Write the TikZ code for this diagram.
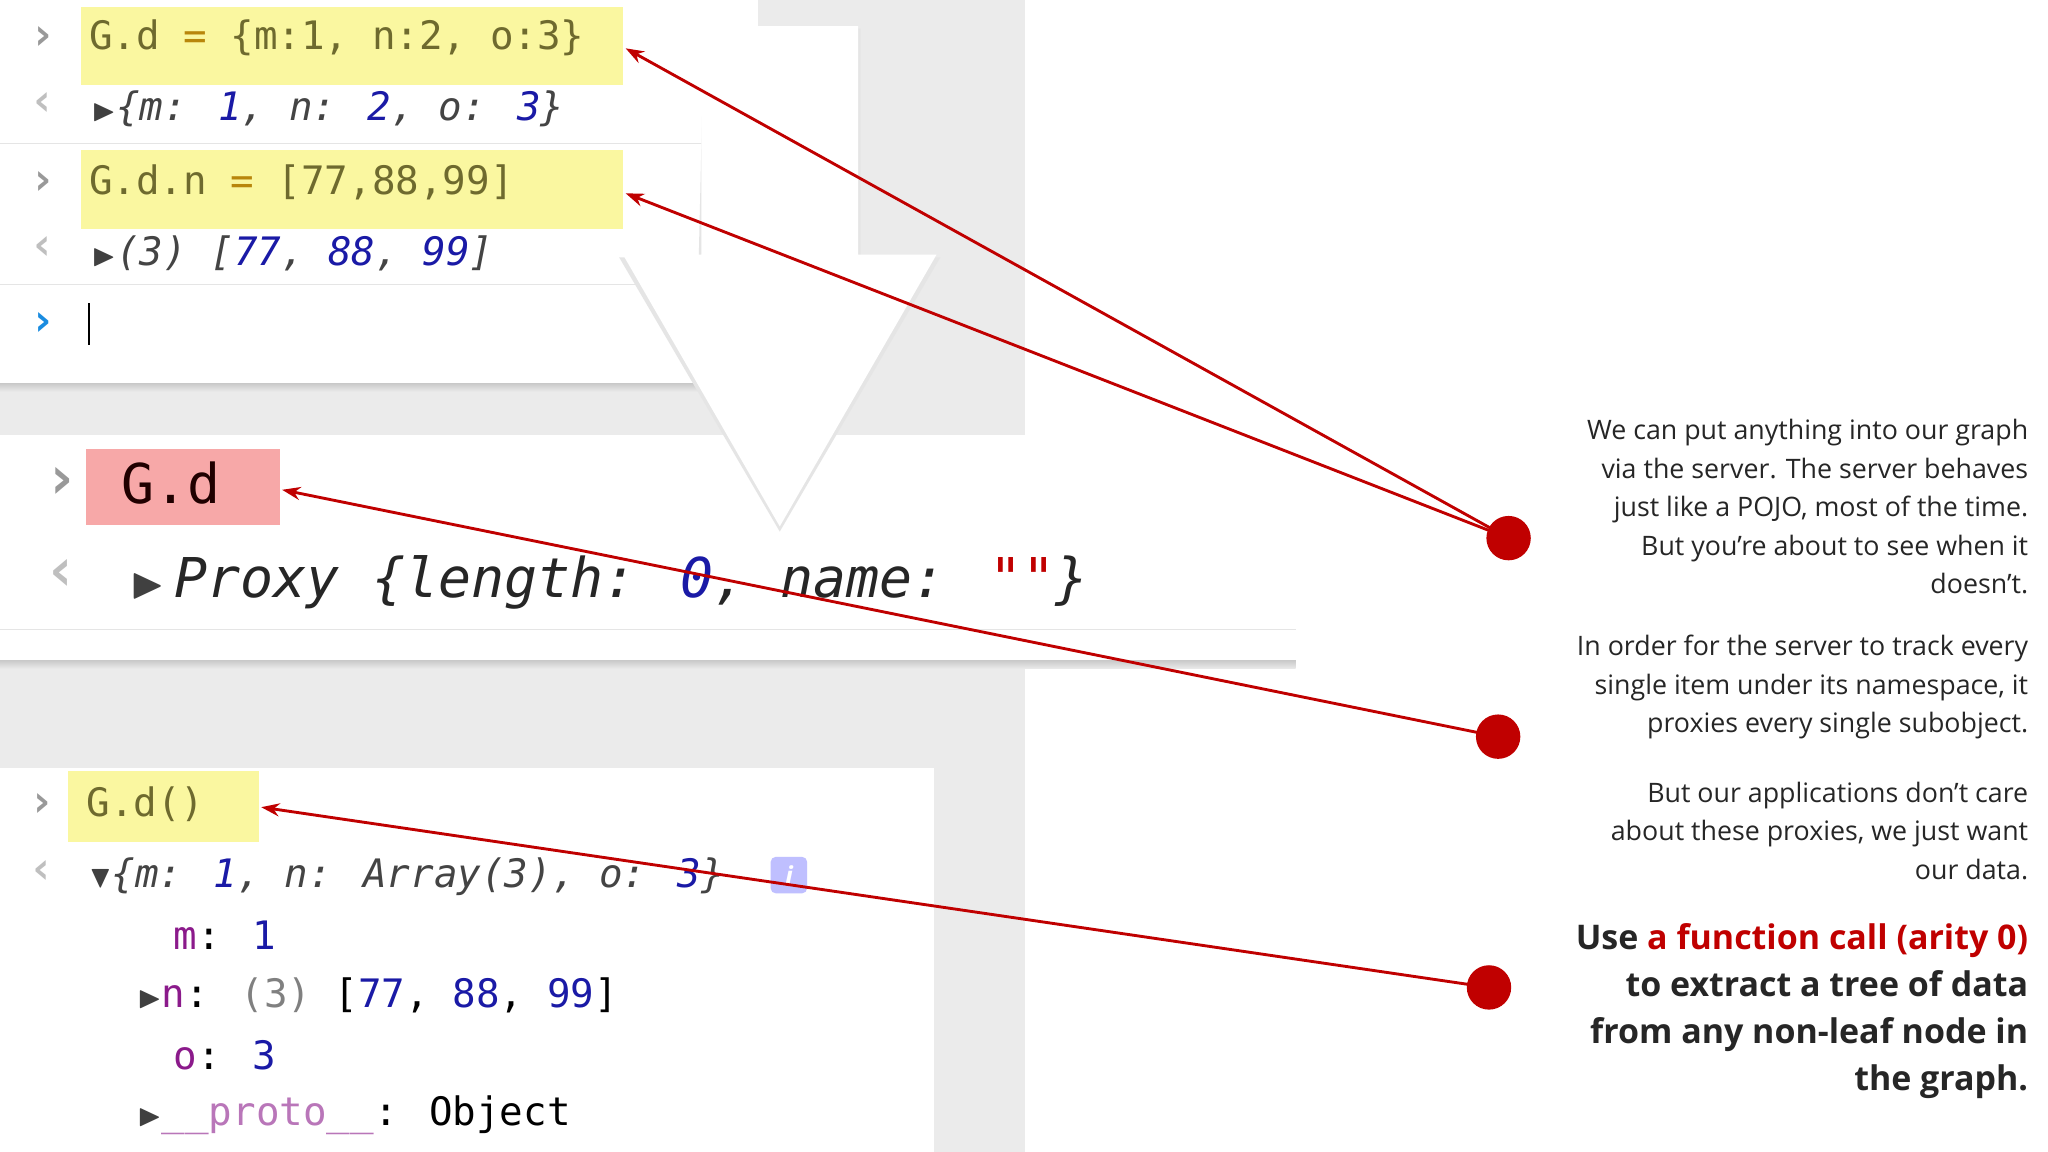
\documentclass[tikz,border=0pt]{standalone}
\usepackage{amssymb}
\usepackage{fontspec}
\setmainfont{Open Sans}
\newfontfamily\codefont{DejaVu Sans Mono}
\usetikzlibrary{arrows.meta}
\definecolor{bggray}{HTML}{EBEBEB}
\definecolor{hlyellow}{HTML}{FAF7A0}
\definecolor{hlpink}{HTML}{F7A8A8}
\definecolor{codeol}{HTML}{6E6A2E}
\definecolor{eqor}{HTML}{B8860B}
\definecolor{numblue}{HTML}{1A1AA6}
\definecolor{keygray}{HTML}{444444}
\definecolor{arrred}{HTML}{C00000}
\definecolor{promptblue}{HTML}{1A8CE0}
\definecolor{keypurple}{HTML}{8B1A8B}
\newcommand{\tri}{\textcolor{black!75}{\fontsize{24}{24}\selectfont$\blacktriangleright$}}
\newcommand{\trid}{\textcolor{black!75}{\fontsize{24}{24}\selectfont$\blacktriangledown$}}
\tikzset{
  code/.style={anchor=west,inner sep=0pt,font=\codefont\fontsize{30}{32}\selectfont},
  prompt/.style={anchor=center,inner sep=0pt,text=gray!80,font=\codefont\bfseries\fontsize{34}{34}\selectfont},
  para/.style={anchor=east,align=right,inner sep=0pt,font=\fontsize{20.5}{29.5}\selectfont,text=black!85},
  redline/.style={draw=arrred,line width=2.2pt,-{Stealth[length=14pt,width=10pt]}},
  dot/.style={circle,fill=arrred,minimum size=34pt,inner sep=0pt},
  sep/.style={draw=black!10,line width=1pt}
}
\begin{document}
\begin{tikzpicture}[x=1pt,y=-1pt]
\useasboundingbox (0,0) rectangle (1568,882);
\fill[white] (0,0) rectangle (1568,882);
\fill[bggray] (0,0) rectangle (785,882);
% panel 1
\shade[top color=black!22,bottom color=bggray] (0,293) rectangle (580,300);
\fill[white] (0,0) rectangle (580,293);
\fill[hlyellow] (62,5) rectangle (477,65);
\fill[hlyellow] (62,115) rectangle (477,175);
\draw[sep] (0,110) -- (580,110);
\draw[sep] (0,218) -- (580,218);
\node[prompt] (p1) at (33,29) {›};
\node[code] (c1) at (68,29) {\textcolor{codeol}{G.d}\ \textcolor{eqor}{=}\ \textcolor{codeol}{\{m:1, n:2, o:3\}}};
\node[prompt,text=gray!50] (p2) at (33,80) {‹};
\node[code] (o1) at (70,83) {\tri\textcolor{keygray}{\itshape\{m: \textcolor{numblue}{1}, n: \textcolor{numblue}{2}, o: \textcolor{numblue}{3}\}}};
\node[prompt] (p3) at (33,140) {›};
\node[code] (c2) at (68,140) {\textcolor{codeol}{G.d.n}\ \textcolor{eqor}{=}\ \textcolor{codeol}{[77,88,99]}};
\node[prompt,text=gray!50] (p4) at (33,190) {‹};
\node[code] (o2) at (70,194) {\tri\textcolor{keygray}{\itshape(3) [\textcolor{numblue}{77}, \textcolor{numblue}{88}, \textcolor{numblue}{99}]}};
\node[prompt,text=promptblue] (p5) at (33,248) {›};
\draw[black,line width=1.5pt] (68,232) -- (68,264);
% panel 2
\shade[top color=black!22,bottom color=bggray] (0,505) rectangle (992,512);
\fill[white] (0,333) rectangle (992,505);
\draw[sep] (0,482) -- (992,482);
\fill[hlpink] (66,344) rectangle (214,402);
\node[prompt,font=\codefont\bfseries\fontsize{46}{46}\selectfont] (p6) at (47,370) {›};
\node[code,font=\codefont\fontsize{42}{44}\selectfont,text=black!75!red!50!black] (c3) at (93,370) {G.d};
\node[prompt,text=gray!50,font=\codefont\bfseries\fontsize{46}{46}\selectfont] (p7) at (47,440) {‹};
\node[code,font=\codefont\fontsize{42}{45}\selectfont] (o3) at (100,446) {\textcolor{black!75}{\fontsize{34}{34}\selectfont$\blacktriangleright$}\,\textcolor{black!85}{\itshape Proxy \{length: \textcolor{numblue}{0}, name: \textcolor{arrred}{""}\}}};
% big arrow (on top)
\fill[black!10] (539,22) -- (659,22) -- (659,197) -- (720,197) -- (597,407) -- (474,197) -- (535,197) -- cycle;
\fill[white] (537,20) -- (657,20) -- (657,195) -- (717,195) -- (597,403) -- (477,195) -- (537,195) -- cycle;
% panel 3
\fill[white] (0,588) rectangle (715,882);
\fill[hlyellow] (52,590) rectangle (198,645);
\node[prompt] (p8) at (32,616) {›};
\node[code,text=codeol] (c4) at (66,616) {G.d()};
\node[prompt,text=gray!50] (p9) at (32,668) {‹};
\node[code] (o4) at (68,671) {\trid\textcolor{keygray}{\itshape\{m: \textcolor{numblue}{1}, n: Array(3), o: \textcolor{numblue}{3}\}}};
\node[fill=blue!25,rounded corners=4pt,minimum size=28pt,inner sep=0pt,text=white,font=\itshape\bfseries\fontsize{20}{20}\selectfont] (info) at (604,670) {i};
\node[code] (m) at (133,716) {\textcolor{keypurple}{m}: \textcolor{numblue}{1}};
\node[code] (n) at (105,762) {\tri\textcolor{keypurple}{n}: \textcolor{gray}{(3)} [\textcolor{numblue}{77}, \textcolor{numblue}{88}, \textcolor{numblue}{99}]};
\node[code] (o) at (133,808) {\textcolor{keypurple}{o}: \textcolor{numblue}{3}};
\node[code] (pr) at (105,854) {\tri\textcolor{keypurple!60}{\_\_proto\_\_}: Object};
% right text
\node[para] (t1) at (1553,388) {We can put anything into our graph\\via the server. The server behaves\\just like a POJO, most of the time.\\But you’re about to see when it\\doesn’t.};
\node[para] (t2) at (1553,526) {In order for the server to track every\\single item under its namespace, it\\proxies every single subobject.};
\node[para] (t3) at (1553,636) {But our applications don’t care\\about these proxies, we just want\\our data.};
\node[para,font=\bfseries\fontsize{26}{36}\selectfont] (t4) at (1553,774) {Use \textcolor{arrred}{a function call (arity 0)}\\to extract a tree of data\\from any non-leaf node in\\the graph.};
% dots and arrows
\node[dot] (d1) at (1155,412) {};
\node[dot] (d2) at (1147,564) {};
\node[dot] (d3) at (1140,756) {};
\coordinate (a1) at (479,37);
\coordinate (a2) at (479,148);
\coordinate (a3) at (216,375);
\coordinate (a4) at (200,618);
\draw[redline] (d1.center) -- (a1);
\draw[redline] (d1.center) -- (a2);
\draw[redline] (d2.center) -- (a3);
\draw[redline] (d3.center) -- (a4);
\end{tikzpicture}
\end{document}
